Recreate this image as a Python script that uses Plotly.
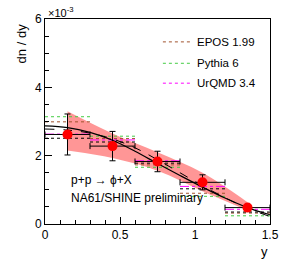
import plotly.graph_objects as go

# ---- data (dn/dy in units of 1e-3) ----
y_pts = [0.15, 0.45, 0.75, 1.05, 1.35]
dndy = [2.62, 2.28, 1.83, 1.22, 0.48]
stat_err = [0.60, 0.43, 0.30, 0.22, 0.07]
x_err = [0.15, 0.15, 0.15, 0.15, 0.15]
sys_up = [3.30, 2.65, 2.10, 1.50, 0.64]
sys_lo = [2.15, 1.93, 1.56, 0.96, 0.40]

bin_edges = [0.0, 0.3, 0.6, 0.9, 1.2, 1.5]
epos = [2.99, 2.50, 1.73, 0.90, 0.32]
pythia = [3.14, 2.57, 1.66, 0.81, 0.24]
urqmd = [2.63, 2.46, 1.85, 1.10, 0.43]
other = [2.51, 2.40, 1.78, 1.03, 0.35]

curve_x = [0.0, 0.15, 0.3, 0.45, 0.6, 0.75, 0.9, 1.05, 1.2, 1.35, 1.5]
fit_solid = [2.87, 2.82, 2.68, 2.45, 2.13, 1.77, 1.42, 1.08, 0.76, 0.48, 0.27]
fit_dashed = [2.78, 2.75, 2.66, 2.49, 2.23, 1.88, 1.50, 1.12, 0.77, 0.46, 0.22]

legend_names = ["EPOS 1.99", "Pythia 6", "UrQMD 3.4"]
x_ticks = [0, 0.5, 1, 1.5]
x_tick_text = ["0", "0.5", "1", "1.5"]
y_ticks = [0, 2, 4, 6]
y_tick_text = ["0", "2", "4", "6"]

W, H = 291, 267
L, R, T, B = 45, 274, 18, 224


def px(x):
    return (x - L) / (R - L)


def py(y):
    return (B - y) / (B - T)


def steps(vals):
    xs, ys = [], []
    for i, v in enumerate(vals):
        xs += [bin_edges[i], bin_edges[i + 1], None]
        ys += [v, v, None]
    return xs, ys


fig = go.Figure()

# systematic band (smooth edges)
fig.add_trace(go.Scatter(x=y_pts, y=sys_lo, mode="lines", line_shape="spline",
                         line=dict(width=0, color="rgba(0,0,0,0)"),
                         showlegend=False, hoverinfo="skip"))
fig.add_trace(go.Scatter(x=y_pts, y=sys_up, mode="lines", line_shape="spline",
                         fill="tonexty", fillcolor="rgba(255,100,100,0.68)",
                         line=dict(width=0, color="rgba(0,0,0,0)"),
                         showlegend=False, hoverinfo="skip"))

model_styles = [
    (epos, "#A0522D", "dot"),
    (pythia, "#44CC44", "dot"),
    (urqmd, "#FF00FF", "dashdot"),
    (other, "#000000", "dot"),
]
for vals, col, dash in model_styles:
    xs, ys = steps(vals)
    fig.add_trace(go.Scatter(x=xs, y=ys, mode="lines",
                             line=dict(color=col, width=1, dash=dash),
                             showlegend=False, hoverinfo="skip"))

fig.add_trace(go.Scatter(x=curve_x, y=fit_solid, mode="lines", line_shape="spline",
                         line=dict(color="black", width=1.2), showlegend=False))
fig.add_trace(go.Scatter(x=curve_x, y=fit_dashed, mode="lines", line_shape="spline",
                         line=dict(color="black", width=1, dash="dash"), showlegend=False))

fig.add_trace(go.Scatter(
    x=y_pts, y=dndy, mode="markers",
    marker=dict(color="red", size=10, symbol="circle"),
    error_y=dict(type="data", array=stat_err, color="black", thickness=1, width=3),
    error_x=dict(type="data", array=x_err, color="black", thickness=1, width=3),
    showlegend=False))

font = "Liberation Sans, Arial, sans-serif"

# manual legend
leg_y = [41, 62.5, 82.5]
leg_cols = ["#A0522D", "#44CC44", "#FF00FF"]
leg_dash = ["dot", "dot", "dot"]
for name, yy, col, dash in zip(legend_names, leg_y, leg_cols, leg_dash):
    fig.add_shape(type="line", xref="paper", yref="paper",
                  x0=px(165), x1=px(193), y0=py(yy), y1=py(yy),
                  line=dict(color=col, width=1, dash=dash))
    fig.add_annotation(text=name, xref="paper", yref="paper", x=px(198), y=py(yy),
                       xanchor="left", yanchor="middle", showarrow=False,
                       font=dict(size=11.5, color="black", family=font))

fig.add_annotation(text="p+p → ϕ+X", xref="paper", yref="paper", x=px(69), y=py(180),
                   xanchor="left", yanchor="middle", showarrow=False,
                   font=dict(size=12, color="black", family=font))
fig.add_annotation(text="NA61/SHINE preliminary", xref="paper", yref="paper", x=px(69), y=py(198),
                   xanchor="left", yanchor="middle", showarrow=False,
                   font=dict(size=12, color="black", family=font))
fig.add_annotation(text="×10<sup>-3</sup>", xref="paper", yref="paper", x=px(46), y=py(11),
                   xanchor="left", yanchor="middle", showarrow=False,
                   font=dict(size=11, color="black", family=font))
fig.add_annotation(text="dn / dy", xref="paper", yref="paper", x=px(22), y=py(20),
                   xanchor="center", yanchor="top", textangle=-90, showarrow=False,
                   font=dict(size=13, color="black", family=font))
fig.add_annotation(text="y", xref="paper", yref="paper", x=px(274), y=py(252),
                   xanchor="right", yanchor="middle", showarrow=False,
                   font=dict(size=13, color="black", family=font))

fig.update_xaxes(range=[0, 1.5], tickvals=x_ticks, ticktext=x_tick_text,
                 ticks="inside", ticklen=7, tickcolor="black",
                 minor=dict(ticks="inside", dtick=0.1, ticklen=4, tickcolor="black"),
                 showline=True, linecolor="black", linewidth=1, mirror=True,
                 showgrid=False, zeroline=False,
                 tickfont=dict(size=12, color="black", family=font))
fig.update_yaxes(range=[0, 6], tickvals=y_ticks, ticktext=y_tick_text,
                 ticks="inside", ticklen=7, tickcolor="black",
                 minor=dict(ticks="inside", dtick=0.5, ticklen=4, tickcolor="black"),
                 showline=True, linecolor="black", linewidth=1, mirror=True,
                 showgrid=False, zeroline=False,
                 tickfont=dict(size=12, color="black", family=font))

fig.update_layout(width=W, height=H, margin=dict(l=L, r=W - R, t=T, b=H - B),
                  paper_bgcolor="white", plot_bgcolor="white", showlegend=False)

fig.write_html("out.html", config={"displayModeBar": False},
               post_script="document.body.style.margin='0px';document.body.style.overflow='hidden';")
